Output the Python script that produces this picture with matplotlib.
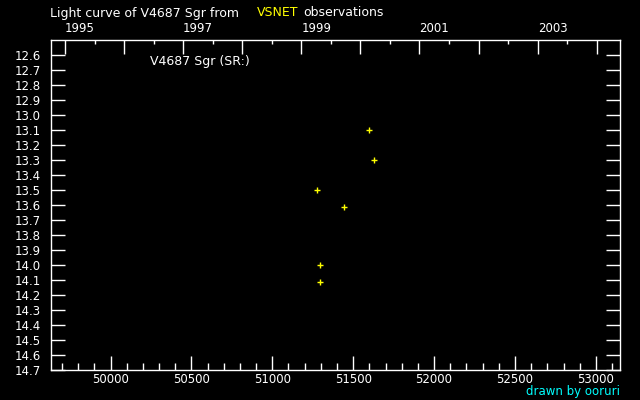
import numpy as np
import matplotlib
matplotlib.use('Agg')
from matplotlib import pyplot as plt
from matplotlib.ticker import FixedLocator, MultipleLocator, NullFormatter

# observations (JD - 2400000, visual magnitude)
jd = [51599, 51630, 51278, 51445, 51297, 51297]
mag = [13.10, 13.30, 13.50, 13.61, 14.00, 14.11]

star = 'V4687 Sgr'
var_type = 'SR:'
year_labels = [1995, 1997, 1999, 2001, 2003]

plt.rcParams['font.family'] = 'DejaVu Sans'
plt.rcParams['font.size'] = 8.5

fig = plt.figure(figsize=(6.4, 4.0), dpi=100, facecolor='black')
ax = fig.add_axes([0.0792, 0.0742, 0.8900, 0.8250], facecolor='black')

ax.plot(jd, mag, '+', color='yellow', ms=4, mew=1.0)

ax.set_xlim(49630, 53151)
ax.set_ylim(14.7, 12.5)

for s in ax.spines.values():
    s.set_color('white')
    s.set_linewidth(1.0)

ax.xaxis.set_major_locator(MultipleLocator(500))
ax.xaxis.set_minor_locator(MultipleLocator(100))
ax.yaxis.set_major_locator(FixedLocator(np.round(np.arange(12.6, 14.71, 0.1), 1)))
ax.yaxis.set_major_formatter(plt.FuncFormatter(lambda v, p: '%.1f' % v))
ax.tick_params(axis='x', which='major', direction='in', length=10, width=1,
               colors='white', pad=2, labelsize=8.5)
ax.tick_params(axis='x', which='minor', direction='in', length=5, width=1, colors='white')
ax.tick_params(axis='y', which='major', direction='in', length=10, width=1,
               colors='white', left=True, right=True, pad=7, labelsize=8.5)
ax.tick_params(axis='y', which='minor', left=False, right=False)

# year axis on top
def year_to_jd(y):
    return 51544.5 + (y - 2000) * 365.25

top = ax.twiny()
top.set_xlim(ax.get_xlim())
years = np.arange(1995, 2005)
top.xaxis.set_major_locator(FixedLocator([year_to_jd(y) for y in years]))
top.xaxis.set_minor_locator(FixedLocator([year_to_jd(y + 0.5) for y in years]))
top.xaxis.set_major_formatter(plt.FuncFormatter(
    lambda v, p: str(years[p]) if years[p] in year_labels else ''))
top.xaxis.set_minor_formatter(NullFormatter())
top.tick_params(axis='x', which='major', direction='in', length=10, width=1,
                colors='white', pad=3.5, labelsize=8.5)
top.tick_params(axis='x', which='minor', direction='in', length=3, width=1, colors='white')
for s in top.spines.values():
    s.set_visible(False)
for lab in top.get_xticklabels():
    lab.set_horizontalalignment('left')

# title pieces
fig.text(50 / 640, 1 - 13 / 400, 'Light curve of %s from' % star, color='white',
         fontsize=9, va='center', ha='left')
fig.text(257 / 640, 1 - 13 / 400, 'VSNET', color='yellow', fontsize=9, va='center', ha='left')
fig.text(303 / 640, 1 - 13 / 400, 'observations', color='white', fontsize=9,
         va='center', ha='left')
fig.text(150 / 640, 1 - 61 / 400, '%s (%s)' % (star, var_type), color='white',
         fontsize=9, va='center', ha='left')
fig.text(620 / 640, 1 - 392 / 400, 'drawn by ooruri', color='cyan', fontsize=8.5,
         va='center', ha='right')

plt.savefig('out.png', dpi=100, facecolor='black')
